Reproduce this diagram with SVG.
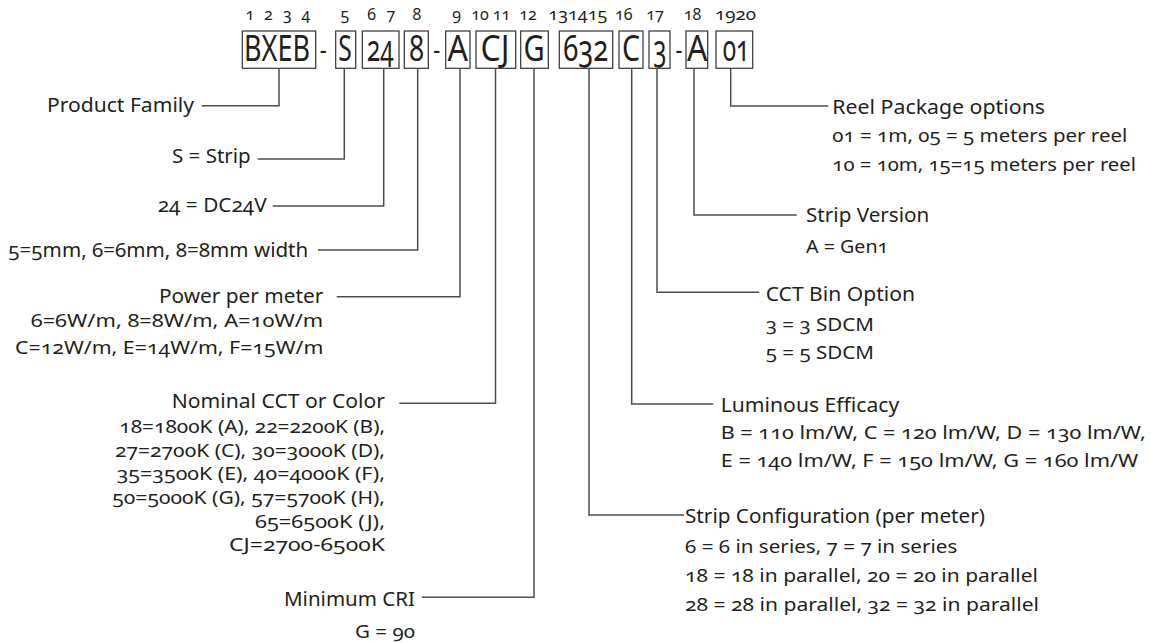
<svg xmlns="http://www.w3.org/2000/svg" width="1151" height="643" viewBox="0 0 1151 643">
<style>
text{font-family:"Noto Sans","Open Sans","Liberation Sans",sans-serif;fill:#231f20;font-variant-numeric:oldstyle-nums;}
.n{font-size:16px;text-anchor:middle;}
.c{font-size:36px;}
.d{font-size:28px;text-anchor:middle;}
.h{font-size:20px;}
.v{font-size:18.5px;}
.e{text-anchor:end;}
.box{fill:none;stroke:#333;stroke-width:1.2;}
.ln{fill:none;stroke:#4d4d4d;stroke-width:1.5;}
</style>
<rect width="1151" height="643" fill="#fff"/>
<g id="code">
<g id="f-family"><text class="n" x="250" y="20">1</text><text class="n" x="268.5" y="20">2</text><text class="n" x="287.5" y="20">3</text><text class="n" x="306" y="20">4</text>
<rect class="box" x="242.3" y="31" width="73.4" height="37.3"/><text class="c" transform="translate(244,61) scale(0.76,1)" x="0" y="0" textLength="86.8" lengthAdjust="spacingAndGlyphs">BXEB</text></g>
<text class="d" x="323.3" y="59" textLength="7" lengthAdjust="spacingAndGlyphs">-</text>
<g id="f-type"><text class="n" x="345" y="20">5</text><rect class="box" x="335.7" y="31" width="20" height="37.3"/><text class="c" x="338.2" y="61" textLength="13.5" lengthAdjust="spacingAndGlyphs">S</text></g>
<g id="f-voltage"><text class="n" x="371.7" y="20">6</text><text class="n" x="391" y="20">7</text><rect class="box" x="362.3" y="31" width="36.7" height="37.3"/><text class="c" x="366.7" y="61" textLength="27" lengthAdjust="spacingAndGlyphs">24</text></g>
<g id="f-width"><text class="n" x="417" y="20">8</text><rect class="box" x="404.3" y="31" width="24" height="37.3"/><text class="c" x="409.3" y="61" textLength="14.7" lengthAdjust="spacingAndGlyphs">8</text></g>
<text class="d" x="436.7" y="59" textLength="7" lengthAdjust="spacingAndGlyphs">-</text>
<g id="f-power"><text class="n" x="456.7" y="20">9</text><rect class="box" x="445.7" y="31" width="24.3" height="37.3"/><text class="c" x="447.5" y="61" textLength="20.5" lengthAdjust="spacingAndGlyphs">A</text></g>
<g id="f-cct"><text class="n" x="480" y="20">10</text><text class="n" x="501.5" y="20">11</text><rect class="box" x="476" y="31" width="39.7" height="37.3"/><text class="c" x="480.5" y="61" textLength="29" lengthAdjust="spacingAndGlyphs">CJ</text></g>
<g id="f-cri"><text class="n" x="528" y="20">12</text><rect class="box" x="520.7" y="31" width="27.6" height="37.3"/><text class="c" x="523.5" y="61" textLength="21.2" lengthAdjust="spacingAndGlyphs">G</text></g>
<g id="f-config"><text class="n" x="577.8" y="20" textLength="59" lengthAdjust="spacingAndGlyphs">131415</text><rect class="box" x="559.3" y="31" width="53.4" height="37.3"/><text class="c" x="563.3" y="61" textLength="45" lengthAdjust="spacingAndGlyphs">632</text></g>
<g id="f-efficacy"><text class="n" x="623.7" y="20">16</text><rect class="box" x="619" y="31" width="24" height="37.3"/><text class="c" x="621.9" y="61" textLength="18" lengthAdjust="spacingAndGlyphs">C</text></g>
<g id="f-bin"><text class="n" x="655" y="20">17</text><rect class="box" x="649" y="31" width="21" height="37.3"/><text class="c" x="653.3" y="61" textLength="13.3" lengthAdjust="spacingAndGlyphs">3</text></g>
<text class="d" x="679" y="59" textLength="7" lengthAdjust="spacingAndGlyphs">-</text>
<g id="f-version"><text class="n" x="692.5" y="20">18</text><rect class="box" x="686" y="31" width="21.7" height="37.3"/><text class="c" x="687" y="61" textLength="20.5" lengthAdjust="spacingAndGlyphs">A</text></g>
<g id="f-reel"><text class="n" x="735.5" y="20" textLength="41" lengthAdjust="spacingAndGlyphs">1920</text><rect class="box" x="716" y="31" width="36.7" height="37.3"/><text class="c" x="722.7" y="61" textLength="26.7" lengthAdjust="spacingAndGlyphs">01</text></g>
</g>
<g id="connectors">
<path class="ln" d="M279,68.3V105.7H201.7"/>
<path class="ln" d="M344.3,68.3V159H257.7"/>
<path class="ln" d="M383.7,68.3V206H272.7"/>
<path class="ln" d="M417.7,68.3V250H318"/>
<path class="ln" d="M460,68.3V296.7H336.7"/>
<path class="ln" d="M495.5,68.3V403.3H399.3"/>
<path class="ln" d="M534,68.3V597.3H421.7"/>
<path class="ln" d="M589,68.3V515H684"/>
<path class="ln" d="M631.7,68.3V404H713.3"/>
<path class="ln" d="M657,68.3V292.3H759.3"/>
<path class="ln" d="M694,68.3V215H796.7"/>
<path class="ln" d="M730.7,68.3V106H828.3"/>
</g>
<g id="n-family"><text class="h e" x="194" y="112" textLength="147" lengthAdjust="spacingAndGlyphs">Product Family</text></g>
<g id="n-type"><text class="h e" x="250.7" y="163" textLength="78.7" lengthAdjust="spacingAndGlyphs">S = Strip</text></g>
<g id="n-voltage"><text class="h e" x="266.7" y="211.7" textLength="109" lengthAdjust="spacingAndGlyphs">24 = DC24V</text></g>
<g id="n-width"><text class="h e" x="308.3" y="256.7" textLength="300" lengthAdjust="spacingAndGlyphs">5=5mm, 6=6mm, 8=8mm width</text></g>
<g id="n-power">
<text class="h e" x="323.3" y="303.3" textLength="164.3" lengthAdjust="spacingAndGlyphs">Power per meter</text>
<text class="v e" x="323.3" y="327.3" textLength="292.6" lengthAdjust="spacingAndGlyphs">6=6W/m, 8=8W/m, A=10W/m</text>
<text class="v e" x="323.3" y="354.3" textLength="308.3" lengthAdjust="spacingAndGlyphs">C=12W/m, E=14W/m, F=15W/m</text>
</g>
<g id="n-cct">
<text class="h e" x="385" y="408.3" textLength="213.3" lengthAdjust="spacingAndGlyphs">Nominal CCT or Color</text>
<text class="v e" x="385" y="433" textLength="265.7" lengthAdjust="spacingAndGlyphs">18=1800K (A), 22=2200K (B),</text>
<text class="v e" x="385" y="456.7" textLength="270" lengthAdjust="spacingAndGlyphs">27=2700K (C), 30=3000K (D),</text>
<text class="v e" x="385" y="480.3" textLength="268.3" lengthAdjust="spacingAndGlyphs">35=3500K (E), 40=4000K (F),</text>
<text class="v e" x="385" y="504" textLength="272.7" lengthAdjust="spacingAndGlyphs">50=5000K (G), 57=5700K (H),</text>
<text class="v e" x="385" y="527.6" textLength="130" lengthAdjust="spacingAndGlyphs">65=6500K (J),</text>
<text class="v e" x="385" y="551.3" textLength="156" lengthAdjust="spacingAndGlyphs">CJ=2700-6500K</text>
</g>
<g id="n-cri">
<text class="h e" x="415" y="606" textLength="131" lengthAdjust="spacingAndGlyphs">Minimum CRI</text>
<text class="v e" x="415" y="638" textLength="60" lengthAdjust="spacingAndGlyphs">G = 90</text>
</g>
<g id="n-reel">
<text class="h" x="832.3" y="114" textLength="212.7" lengthAdjust="spacingAndGlyphs">Reel Package options</text>
<text class="v" x="832.3" y="141.7" textLength="295" lengthAdjust="spacingAndGlyphs">01 = 1m, 05 = 5 meters per reel</text>
<text class="v" x="832.3" y="170.7" textLength="303.7" lengthAdjust="spacingAndGlyphs">10 = 10m, 15=15 meters per reel</text>
</g>
<g id="n-version">
<text class="h" x="806" y="221.7" textLength="123.3" lengthAdjust="spacingAndGlyphs">Strip Version</text>
<text class="v" x="806" y="253.3" textLength="82.3" lengthAdjust="spacingAndGlyphs">A = Gen1</text>
</g>
<g id="n-bin">
<text class="h" x="765.7" y="300.7" textLength="149.3" lengthAdjust="spacingAndGlyphs">CCT Bin Option</text>
<text class="v" x="765.7" y="330.7" textLength="108.3" lengthAdjust="spacingAndGlyphs">3 = 3 SDCM</text>
<text class="v" x="765.7" y="359" textLength="108.3" lengthAdjust="spacingAndGlyphs">5 = 5 SDCM</text>
</g>
<g id="n-efficacy">
<text class="h" x="720.7" y="411.7" textLength="178.6" lengthAdjust="spacingAndGlyphs">Luminous Efficacy</text>
<text class="v" x="720.7" y="439" textLength="425" lengthAdjust="spacingAndGlyphs">B = 110 lm/W, C = 120 lm/W, D = 130 lm/W,</text>
<text class="v" x="720.7" y="467" textLength="417.6" lengthAdjust="spacingAndGlyphs">E = 140 lm/W, F = 150 lm/W, G = 160 lm/W</text>
</g>
<g id="n-config">
<text class="h" x="685" y="523.3" textLength="300" lengthAdjust="spacingAndGlyphs">Strip Configuration (per meter)</text>
<text class="v" x="685" y="552.7" textLength="272.3" lengthAdjust="spacingAndGlyphs">6 = 6 in series, 7 = 7 in series</text>
<text class="v" x="685" y="581.7" textLength="353" lengthAdjust="spacingAndGlyphs">18 = 18 in parallel, 20 = 20 in parallel</text>
<text class="v" x="685" y="610.7" textLength="354" lengthAdjust="spacingAndGlyphs">28 = 28 in parallel, 32 = 32 in parallel</text>
</g>
</svg>
